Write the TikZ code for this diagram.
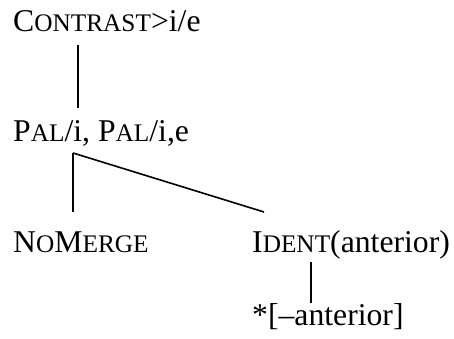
\documentclass[tikz,border=0pt]{standalone}
\usepackage{fontspec}
\setmainfont{Liberation Serif}
\newcommand{\fsc}[2]{#1{\fontsize{25.3}{28}\selectfont #2}}
\tikzset{lbl/.style={anchor=base west,inner sep=0pt,font=\fontsize{31.7}{36}\selectfont},
  edge/.style={line width=1.6pt}}
\begin{document}
\begin{tikzpicture}[x=1pt,y=1pt]
\useasboundingbox (0,0) rectangle (454,339);
\node[lbl] (c) at (13,307) {\fsc{C}{ONTRAST}>i/e};
\node[lbl] (p) at (13,197) {\fsc{P}{AL}/i, \fsc{P}{AL}/i,e};
\node[lbl] (n) at (13,86) {\fsc{N}{O}\fsc{M}{ERGE}};
\node[lbl] (d) at (252,86) {\fsc{I}{DENT}(anterior)};
\node[lbl] (a) at (252,13) {*[\textendash anterior]};
\coordinate (c1) at (78,294);
\coordinate (c2) at (78,231);
\coordinate (p1) at (73,186);
\coordinate (n1) at (73,127);
\coordinate (d1) at (264,127);
\coordinate (d2) at (311,77);
\coordinate (a1) at (311,36);
\draw[edge] (c1) -- (c2);
\draw[edge] (p1) -- (n1);
\draw[edge] (p1) -- (d1);
\draw[edge] (d2) -- (a1);
\end{tikzpicture}
\end{document}
